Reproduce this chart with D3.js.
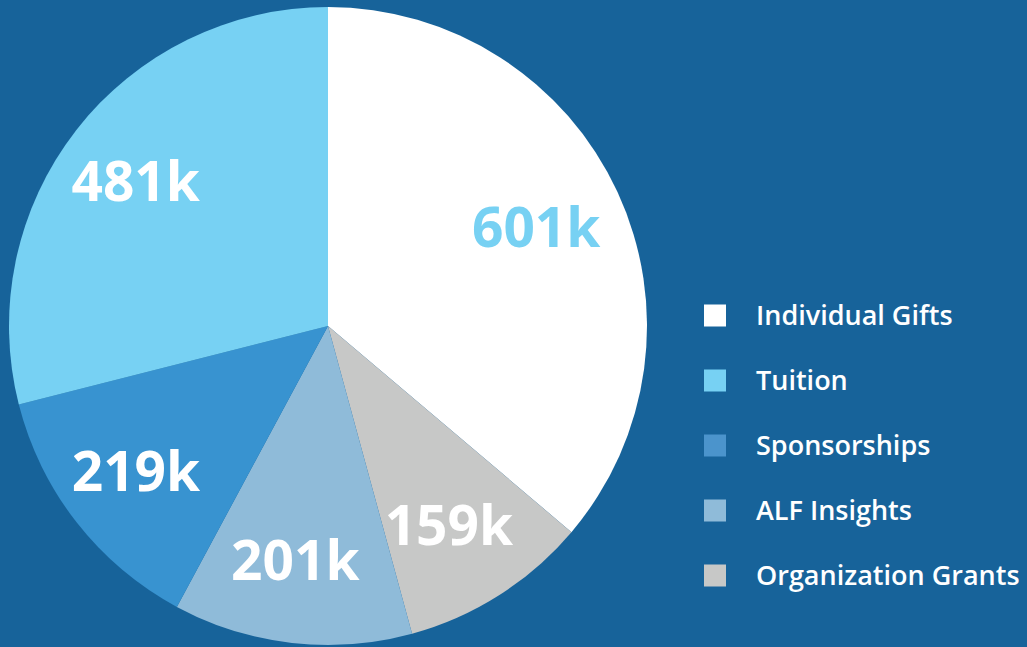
<!DOCTYPE html>
<html>
<head>
<meta charset="utf-8">
<script src="https://cdn.jsdelivr.net/npm/d3@7"></script>
<style>
  html, body { margin: 0; padding: 0; background: #17639a; }
  svg { display: block; }
  text { font-family: "Open Sans", sans-serif; }
</style>
</head>
<body>
<script>
"use strict"
/* dati (in migliaia) */
const categorie = ["Individual Gifts", "Organization Grants", "ALF Insights", "Sponsorships", "Tuition"];
const valori = [601, 159, 201, 219, 481];
const etichette = ["601k", "159k", "201k", "219k", "481k"];
const colori = ["#ffffff", "#c7c8c7", "#8fbbd9", "#3893d0", "#77d1f3"];
const coloriTesto = ["#77d1f3", "#ffffff", "#ffffff", "#ffffff", "#ffffff"];
/* ordine della legenda */
const ordineLegenda = ["Individual Gifts", "Tuition", "Sponsorships", "ALF Insights", "Organization Grants"];
const coloriLegenda = ["#ffffff", "#77d1f3", "#4b94cc", "#8fbbd9", "#c7c8c7"];

const grafico = { larghezza: 1027, altezza: 647 };
const centro = { x: 328, y: 326 };
const raggio = 319;

const svg = d3.select("body").append("svg")
    .attr("width", grafico.larghezza)
    .attr("height", grafico.altezza);

svg.append("rect")
    .attr("width", grafico.larghezza)
    .attr("height", grafico.altezza)
    .attr("fill", "#17639a");

const dati = categorie.map(function (c, i) { return { nome: c, valore: valori[i], indice: i } });

const torta = d3.pie()
    .sort(null)
    .value(function (d) { return d.valore });

const arco = d3.arc().innerRadius(0).outerRadius(raggio);
/* le etichette stanno a circa 3/4 del raggio */
const arcoEtichette = d3.arc().innerRadius(raggio * 0.74).outerRadius(raggio * 0.74);

const gruppoTorta = svg.append("g")
    .attr("transform", `translate(${centro.x},${centro.y})`);

const fette = gruppoTorta.selectAll("g.fetta")
    .data(torta(dati))
    .enter()
    .append("g")
    .attr("class", "fetta");

fette.append("path")
    .attr("d", arco)
    .attr("fill", function (d) { return colori[d.data.indice] });

fette.append("text")
    .attr("transform", function (d) {
        const c = arcoEtichette.centroid(d);
        return `translate(${c[0] - 6},${c[1]})`;
    })
    .attr("text-anchor", "middle")
    .attr("dy", "0.36em")
    .attr("font-size", "55px")
    .attr("font-weight", 700)
    .attr("fill", function (d) { return coloriTesto[d.data.indice] })
    .text(function (d) { return etichette[d.data.indice] });

/* legenda */
const scalaLegenda = d3.scaleBand()
    .domain(ordineLegenda)
    .range([283, 608]);

const voci = svg.append("g")
    .selectAll("g")
    .data(ordineLegenda)
    .enter()
    .append("g")
    .attr("transform", function (d) {
        return `translate(704,${scalaLegenda(d) + scalaLegenda.bandwidth() / 2})`;
    });

voci.append("rect")
    .attr("x", 0)
    .attr("y", -11)
    .attr("width", 22)
    .attr("height", 22)
    .attr("fill", function (d, i) { return coloriLegenda[i] });

voci.append("text")
    .attr("x", 52)
    .attr("dy", "0.36em")
    .attr("font-size", "27px")
    .attr("font-weight", 600)
    .attr("fill", "#ffffff")
    .text(function (d) { return d });
</script>
</body>
</html>
